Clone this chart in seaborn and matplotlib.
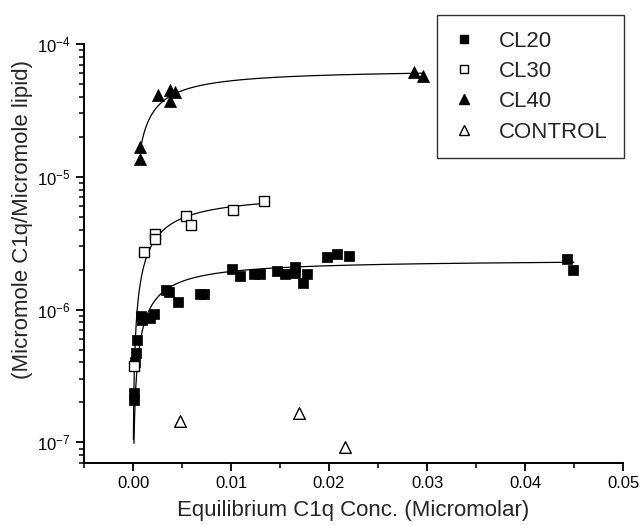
import numpy as np
import pandas as pd
import matplotlib
matplotlib.use("Agg")
import matplotlib.pyplot as plt
import seaborn as sns
from matplotlib.lines import Line2D
from matplotlib.ticker import MultipleLocator, FormatStrFormatter, LogLocator, NullFormatter

# ---------------- data ----------------
cl20_x = [0.0001, 0.0001, 0.0002, 0.0003, 0.0004, 0.0008, 0.0009, 0.0017, 0.0021,
          0.0034, 0.0037, 0.0046, 0.0068, 0.0072, 0.0101, 0.0109, 0.0123, 0.0130,
          0.0147, 0.0155, 0.0165, 0.0165, 0.0173, 0.0178, 0.0198, 0.0208, 0.0220,
          0.0443, 0.0449]
cl20_y = [2.37e-7, 2.1e-7, 4.0e-7, 4.7e-7, 5.9e-7, 8.9e-7, 8.4e-7, 8.7e-7, 9.2e-7,
          1.41e-6, 1.35e-6, 1.15e-6, 1.30e-6, 1.32e-6, 2.03e-6, 1.78e-6, 1.87e-6, 1.87e-6,
          1.96e-6, 1.86e-6, 2.10e-6, 1.89e-6, 1.60e-6, 1.87e-6, 2.49e-6, 2.64e-6, 2.52e-6,
          2.40e-6, 2.00e-6]

cl30_x = [0.0001, 0.00115, 0.00224, 0.00224, 0.00538, 0.00592, 0.01017, 0.0134]
cl30_y = [3.75e-7, 2.72e-6, 3.71e-6, 3.40e-6, 5.03e-6, 4.35e-6, 5.62e-6, 6.6e-6]

cl40_x = [0.00075, 0.00075, 0.0026, 0.0038, 0.0038, 0.0043, 0.0287, 0.0296]
cl40_y = [1.67e-5, 1.36e-5, 4.14e-5, 4.5e-5, 3.75e-5, 4.37e-5, 6.2e-5, 5.7e-5]

control_x = [0.0048, 0.0169, 0.0216]
control_y = [1.44e-7, 1.67e-7, 9.2e-8]

# Langmuir fit parameters (Bmax, Kd, x-start, x-end) for the drawn fit curves
fit_series = ["CL20", "CL30", "CL40"]
fit_bmax = [2.39e-6, 7.65e-6, 6.5e-5]
fit_kd = [0.00233, 0.00286, 0.0023]
fit_xstart = [0.0001, 0.00004, 0.0007]
fit_xend = [0.045, 0.0134, 0.0296]

legend_labels = ["CL20", "CL30", "CL40", "CONTROL"]

# ---------------- figure ----------------
sns.set_style("ticks")
plt.rcParams['font.family'] = ['Liberation Sans', 'DejaVu Sans']
plt.rcParams['mathtext.fontset'] = 'custom'
plt.rcParams['mathtext.rm'] = 'Liberation Sans'

fig = plt.figure(figsize=(6.41, 5.25), dpi=100)
ax = fig.add_axes([84/641, 1-463/525, (623-84)/641, (463-44)/525])

# fitted curves
rows = []
for name, b, k, x0, x1 in zip(fit_series, fit_bmax, fit_kd, fit_xstart, fit_xend):
    xs = np.concatenate([np.geomspace(x0, min(0.002, x1), 150), np.linspace(min(0.002, x1), x1, 200)])
    ys = b * xs / (k + xs)
    rows.append(pd.DataFrame({"x": xs, "y": ys, "series": name}))
fit_df = pd.concat(rows, ignore_index=True)
for name in fit_series:
    d = fit_df[fit_df.series == name]
    sns.lineplot(data=d, x="x", y="y", color="black", lw=0.9, estimator=None,
                 sort=False, ax=ax, legend=False, zorder=2)

# points
sns.scatterplot(x=cl20_x, y=cl20_y, marker="s", color="black", edgecolor="black",
                s=55, linewidth=0.5, ax=ax, legend=False, zorder=3)
sns.scatterplot(x=cl30_x, y=cl30_y, marker="s", color="white", edgecolor="black",
                s=55, linewidth=1.0, ax=ax, legend=False, zorder=3)
sns.scatterplot(x=cl40_x, y=cl40_y, marker="^", color="black", edgecolor="black",
                s=75, linewidth=0.5, ax=ax, legend=False, zorder=3)
sns.scatterplot(x=control_x, y=control_y, marker="^", color="white", edgecolor="black",
                s=70, linewidth=1.0, ax=ax, legend=False, zorder=3)

ax.set_yscale("log")
ax.set_xlim(-0.005, 0.05)
ax.set_ylim(7e-8, 1e-4)

ax.xaxis.set_major_locator(MultipleLocator(0.01))
ax.xaxis.set_minor_locator(MultipleLocator(0.005))
ax.xaxis.set_major_formatter(FormatStrFormatter("%.2f"))
ax.yaxis.set_major_locator(LogLocator(base=10, numticks=10))
ax.yaxis.set_minor_locator(LogLocator(base=10, subs=np.arange(2, 10), numticks=20))
ax.yaxis.set_minor_formatter(NullFormatter())

for s in ["top", "right"]:
    ax.spines[s].set_visible(False)
for s in ["left", "bottom"]:
    ax.spines[s].set_linewidth(1.4)
    ax.spines[s].set_color("black")

ax.tick_params(which="major", direction="out", length=6, width=1.3, labelsize=12,
               colors="black")
ax.tick_params(which="minor", direction="out", length=3.5, width=1.1, colors="black")

ax.set_xlabel("Equilibrium C1q Conc. (Micromolar)", fontsize=16, labelpad=6)
ax.set_ylabel("(Micromole C1q/Micromole lipid)", fontsize=16)
ax.yaxis.set_label_coords(-0.095, 0.58)

# legend
handles = [
    Line2D([], [], ls="none", marker="s", ms=6, mfc="black", mec="black"),
    Line2D([], [], ls="none", marker="s", ms=6, mfc="white", mec="black", mew=1.0),
    Line2D([], [], ls="none", marker="^", ms=7, mfc="black", mec="black"),
    Line2D([], [], ls="none", marker="^", ms=7, mfc="white", mec="black", mew=1.0),
]
leg = fig.legend(handles, legend_labels, loc="upper left",
                 bbox_to_anchor=(437/641, 1-15/525), bbox_transform=fig.transFigure,
                 fontsize=16, frameon=True, fancybox=False, borderpad=0.7,
                 handlelength=1.0, handletextpad=1.1, labelspacing=0.42,
                 borderaxespad=0)
leg.get_frame().set_edgecolor("black")
leg.get_frame().set_linewidth(1.0)

fig.savefig("out.png", dpi=100)
